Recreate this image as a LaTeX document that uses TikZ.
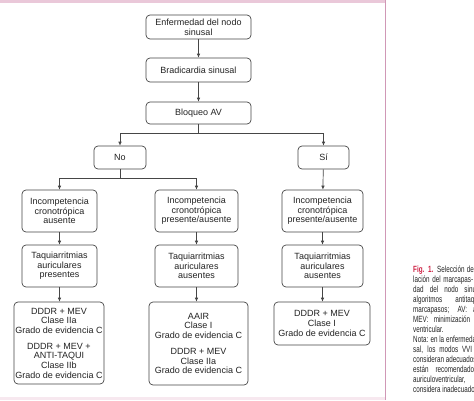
\documentclass[tikz,border=0pt]{standalone}
\usepackage{fontspec}
\setmainfont{Liberation Sans}
\newfontfamily\capfont[FakeStretch=0.7]{Liberation Sans}
\usetikzlibrary{arrows.meta}
\definecolor{boxline}{RGB}{70,70,70}
\definecolor{txt}{RGB}{35,35,35}
\definecolor{pinkband}{RGB}{234,200,217}
\definecolor{pinklight}{RGB}{247,232,239}
\definecolor{pinkline}{RGB}{208,152,182}
\definecolor{figred}{RGB}{205,30,65}
\tikzset{
  box/.style={draw=boxline, line width=0.7pt, rounded corners=4pt, align=center,
    inner sep=0pt, text=txt, font=\fontsize{9}{9.6}\selectfont},
  conn/.style={draw=boxline, line width=0.7pt},
  arr/.style={conn, -{Latex[length=4pt,width=3.6pt]}},
  capline/.style={anchor=base west, inner sep=0pt, text=txt, font=\capfont\fontsize{9}{10}\selectfont}
}
\begin{document}
\begin{tikzpicture}[x=1pt,y=-1pt]
\useasboundingbox (0,0) rectangle (474,400);
\fill[white] (0,0) rectangle (474,400);
% decorations
\fill[pinkband] (0,0) rectangle (386,2.5);
\fill[pinklight] (0,396.5) rectangle (386,400);
\draw[pinkline, line width=1.4pt] (385.5,0) -- (385.5,400);

% nodes
\node[box, minimum width=105pt, minimum height=24pt] (n1) at (198.5,27) {Enfermedad del nodo\\sinusal};
\node[box, minimum width=105pt, minimum height=24pt] (n2) at (198.5,70) {Bradicardia sinusal};
\node[box, minimum width=105pt, minimum height=22pt] (n3) at (198.5,113) {Bloqueo AV};
\node[box, minimum width=52pt, minimum height=23pt] (no) at (120,157.5) {No};
\node[box, minimum width=51pt, minimum height=23pt] (si) at (323.5,157.5) {Sí};

\node[box, minimum width=75pt, minimum height=42pt] (i1) at (59.5,211) {Incompetencia\\cronotrópica\\ausente};
\node[box, minimum width=83pt, minimum height=42pt] (i2) at (196.5,211) {Incompetencia\\cronotrópica\\presente/ausente};
\node[box, minimum width=81pt, minimum height=42pt] (i3) at (322.5,211) {Incompetencia\\cronotrópica\\presente/ausente};

\node[box, minimum width=75pt, minimum height=42pt] (t1) at (59.5,266) {Taquiarritmias\\auriculares\\presentes};
\node[box, minimum width=83pt, minimum height=42pt] (t2) at (196.5,266) {Taquiarritmias\\auriculares\\ausentes};
\node[box, minimum width=81pt, minimum height=42pt] (t3) at (322.5,266) {Taquiarritmias\\auriculares\\ausentes};

\node[box, minimum width=90pt, minimum height=82pt] (b1) at (59,343) {DDDR + MEV\\Clase IIa\\Grado de evidencia C\\[6.5pt]DDDR + MEV +\\ANTI-TAQUI\\Clase IIb\\Grado de evidencia C};
\node[box, minimum width=99pt, minimum height=83pt] (b2) at (198.5,343.5) {AAIR\\Clase I\\Grado de evidencia C\\[6.5pt]DDDR + MEV\\Clase IIa\\Grado de evidencia C};
\node[box, minimum width=96pt, minimum height=43pt] (b3) at (322,323.5) {DDDR + MEV\\Clase I\\Grado de evidencia C};

% connectors
\coordinate (s1) at (198.5,133);
\coordinate (s2) at (120,178);
\draw[arr] (n1) -- (n2);
\draw[arr] (n2) -- (n3);
\draw[conn] (n3.south) -- (s1);
\draw[arr] (s1) -| (no.north);
\draw[arr] (s1) -| (si.north);
\draw[conn] (no.south) -- (s2);
\draw[arr] (s2) -| (i1.north);
\draw[arr] (s2) -| (i2.north);
\draw[arr] (si) -- (i3);
\draw[arr] (i1) -- (t1);
\draw[arr] (i2) -- (t2);
\draw[arr] (i3) -- (t3);
\draw[arr] (t1.south) -- (t1.south |- b1.north);
\draw[arr] (t2.south) -- (t2.south |- b2.north);
\draw[arr] (t3.south) -- (t3.south |- b3.north);

% caption (clipped at the right edge)
\begin{scope}
\clip (387,230) rectangle (474,400);
\node[capline] (c1) at (413,272) {\makebox[62pt][s]{{\bfseries\color{figred}Fig. 1.} Selección del}};
\node[capline] (c2) at (413,282.05) {\makebox[60pt][s]{lación del marcapas-}};
\node[capline] (c3) at (413,292.1) {\makebox[66pt][s]{dad del nodo sinus}};
\node[capline] (c4) at (413,302.15) {\makebox[66pt][s]{algoritmos antitaqui}};
\node[capline] (c5) at (413,312.2) {\makebox[67pt][s]{marcapasos; AV: au}};
\node[capline] (c6) at (413,322.25) {\makebox[66pt][s]{MEV: minimización d}};
\node[capline] (c7) at (413,332.3) {ventricular.};
\node[capline] (c8) at (413,342.35) {Nota: en la enfermedad};
\node[capline] (c9) at (413,352.4) {\makebox[59pt][s]{sal, los modos VVI}};
\node[capline] (c10) at (413,362.45) {consideran adecuados};
\node[capline] (c11) at (413,372.5) {\makebox[64pt][s]{están recomendados}};
\node[capline] (c12) at (413,382.55) {\makebox[66pt][s]{auriculoventricular, e}};
\node[capline] (c13) at (413,392.6) {considera inadecuado.};
\end{scope}
\end{tikzpicture}
\end{document}
